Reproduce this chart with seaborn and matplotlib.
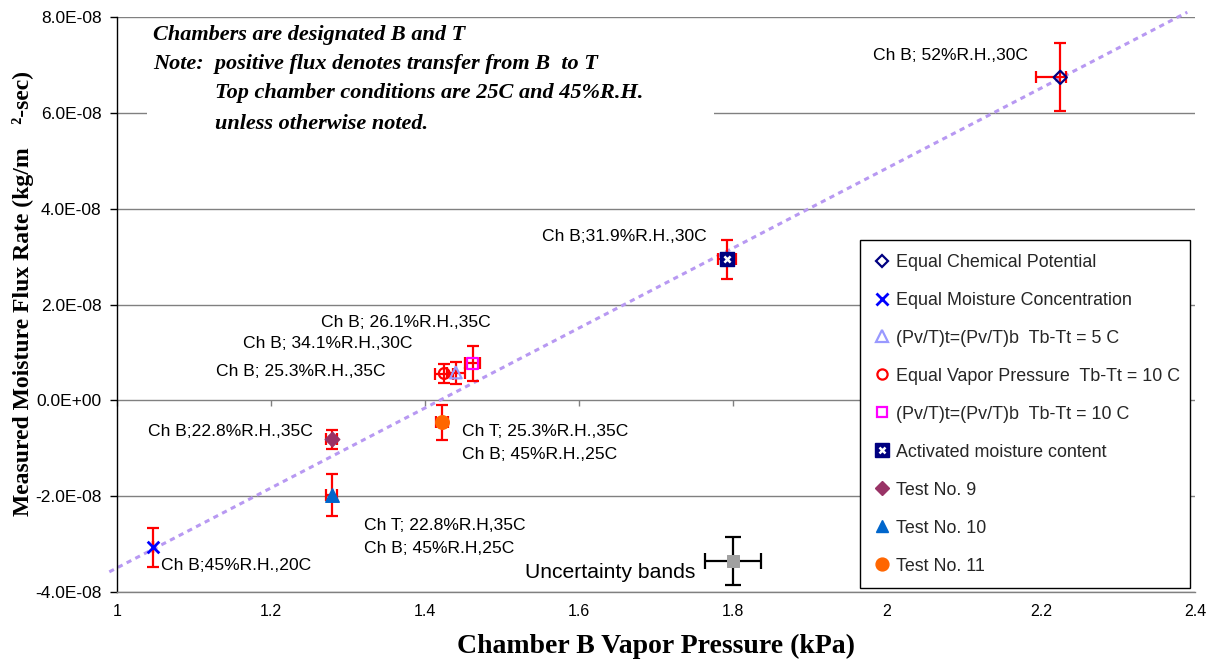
import matplotlib
matplotlib.use("Agg")
import matplotlib.pyplot as plt
import numpy as np
import pandas as pd
import seaborn as sns
from matplotlib.lines import Line2D
from matplotlib.legend_handler import HandlerTuple
from matplotlib.patches import Rectangle
from matplotlib.ticker import FixedLocator

sns.set_theme(style="white")
plt.rcParams["font.family"] = ["Liberation Sans", "DejaVu Sans"]

# ---- measured series -------------------------------------------------------
series_names = [
    "Equal Chemical Potential",
    "Equal Moisture Concentration",
    "(Pv/T)t=(Pv/T)b  Tb-Tt = 5 C",
    "Equal Vapor Pressure  Tb-Tt = 10 C",
    "(Pv/T)t=(Pv/T)b  Tb-Tt = 10 C",
    "Activated moisture content",
    "Test No. 9",
    "Test No. 10",
    "Test No. 11",
]
vapor_pressure = [2.225, 1.047, 1.440, 1.425, 1.462, 1.792, 1.279, 1.279, 1.422]
flux_rate = [6.74e-8, -3.07e-8, 0.58e-8, 0.56e-8, 0.77e-8, 2.94e-8, -0.81e-8, -1.98e-8, -0.46e-8]
flux_err = [0.71e-8, 0.40e-8, 0.23e-8, 0.20e-8, 0.36e-8, 0.40e-8, 0.20e-8, 0.44e-8, 0.37e-8]
vp_err_low = [0.032, 0.0, 0.012, 0.012, 0.010, 0.012, 0.007, 0.007, 0.008]
vp_err_high = [0.008, 0.0, 0.012, 0.012, 0.010, 0.012, 0.007, 0.007, 0.008]

# reference uncertainty marker
band_vp = [1.80]
band_flux = [-3.36e-8]
band_flux_err = [0.50e-8]
band_vp_err = [0.036]

# fitted trend
trend_vp = [0.99, 2.39]
trend_flux = [-3.58e-8, 8.10e-8]

# axis ticks
x_ticks = [1.0, 1.2, 1.4, 1.6, 1.8, 2.0, 2.2, 2.4]
x_tick_labels = ["1", "1.2", "1.4", "1.6", "1.8", "2", "2.2", "2.4"]
y_ticks = [-4e-8, -2e-8, 0.0, 2e-8, 4e-8, 6e-8, 8e-8]
y_tick_labels = ["-4.0E-08", "-2.0E-08", "0.0E+00", "2.0E-08", "4.0E-08", "6.0E-08", "8.0E-08"]

# point annotations
point_labels = [
    "Ch B; 52%R.H.,30C",
    "Ch B;31.9%R.H.,30C",
    "Ch B; 26.1%R.H.,35C",
    "Ch B; 34.1%R.H.,30C",
    "Ch B; 25.3%R.H.,35C",
    "Ch B;22.8%R.H.,35C",
    "Ch T; 25.3%R.H.,35C",
    "Ch B; 45%R.H.,25C",
    "Ch B;45%R.H.,20C",
    "Ch T; 22.8%R.H,35C",
    "Ch B; 45%R.H,25C",
]
note_lines = [
    "Chambers are designated B and T",
    "Note:  positive flux denotes transfer from B  to T",
    "Top chamber conditions are 25C and 45%R.H.",
    "unless otherwise noted.",
]

# ---- styling ---------------------------------------------------------------
label_xy = [
    (1.982, 7.20e-8), (1.552, 3.42e-8), (1.265, 1.63e-8), (1.164, 1.19e-8),
    (1.129, 0.61e-8), (1.040, -0.65e-8), (1.448, -0.65e-8), (1.448, -1.13e-8),
    (1.057, -3.44e-8), (1.321, -2.61e-8), (1.321, -3.09e-8),
]
note_xy = [(0.0334, 0.968), (0.0334, 0.919), (0.0909, 0.868), (0.0909, 0.814)]

styles = {
    "Equal Chemical Potential": dict(marker="D", s=45, facecolor="none", edgecolor="#000080", linewidth=1.6),
    "Equal Moisture Concentration": dict(marker="x", s=70, color="#0000FF", linewidth=2.0),
    "(Pv/T)t=(Pv/T)b  Tb-Tt = 5 C": dict(marker="^", s=70, facecolor="none", edgecolor="#9999FF", linewidth=1.6),
    "Equal Vapor Pressure  Tb-Tt = 10 C": dict(marker="o", s=60, facecolor="none", edgecolor="#FF0000", linewidth=1.6),
    "(Pv/T)t=(Pv/T)b  Tb-Tt = 10 C": dict(marker="s", s=60, facecolor="none", edgecolor="#FF00FF", linewidth=1.6),
    "Activated moisture content": dict(marker="s", s=100, facecolor="#000080", edgecolor="#000080", linewidth=1.0),
    "Test No. 9": dict(marker="D", s=55, facecolor="#993366", edgecolor="#993366", linewidth=1.0),
    "Test No. 10": dict(marker="^", s=95, facecolor="#0066CC", edgecolor="#0066CC", linewidth=1.0),
    "Test No. 11": dict(marker="o", s=95, facecolor="#FF6600", edgecolor="#FF6600", linewidth=1.0),
}

df = pd.DataFrame({
    "series": series_names,
    "vp": vapor_pressure,
    "flux": flux_rate,
})

fig = plt.figure(figsize=(12.13, 6.60), dpi=100)
ax = fig.add_axes([117 / 1213, 68 / 660, 1078 / 1213, 575 / 660])
ax.set_xlim(1.0, 2.4)
ax.set_ylim(-4e-8, 8e-8)

# gridlines and frame
ax.set_axisbelow(True)
ax.yaxis.grid(True, color="#808080", linewidth=1.0)
ax.xaxis.grid(False)
for side in ("top", "right"):
    ax.spines[side].set_visible(False)
ax.spines["left"].set_color("black")
ax.spines["left"].set_linewidth(1.0)
ax.spines["bottom"].set_color("#808080")
ax.spines["bottom"].set_linewidth(1.0)

ax.yaxis.set_major_locator(FixedLocator(y_ticks))
ax.set_yticklabels(y_tick_labels)
ax.xaxis.set_major_locator(FixedLocator(x_ticks))
ax.set_xticklabels(x_tick_labels)
ax.tick_params(axis="y", which="major", left=True, direction="out", length=5,
               width=1, color="black", pad=6, labelsize=12.5, labelcolor="black")
ax.tick_params(axis="x", which="major", bottom=False, length=0, pad=9,
               labelsize=11.5, labelcolor="black")

# category axis crossing at zero flux
cross = ax.secondary_xaxis(1 / 3)
cross.xaxis.set_major_locator(FixedLocator(x_ticks[:-1]))
cross.set_xticklabels([""] * (len(x_ticks) - 1))
cross.tick_params(axis="x", direction="out", length=4, width=1, color="#808080")
cross.spines["bottom"].set_visible(False)

# note box
ax.add_patch(Rectangle((0.028, 0.795), 0.526, 0.2, transform=ax.transAxes,
                       facecolor="white", edgecolor="none", zorder=1))
for (nx, ny), line in zip(note_xy, note_lines):
    ax.text(nx, ny, line, transform=ax.transAxes, ha="left", va="center",
            fontsize=16, fontfamily="Liberation Serif", fontweight="bold",
            fontstyle="italic", color="black", zorder=2)

# trend line
sns.lineplot(x=trend_vp, y=trend_flux, ax=ax, color="#B899F2", linewidth=2.2,
             dashes=False, zorder=2, clip_on=False, legend=False)
ax.lines[-1].set_dashes([1.7, 1.5])

# error bars
ax.errorbar(vapor_pressure, flux_rate, yerr=flux_err,
            xerr=[vp_err_low, vp_err_high], fmt="none", ecolor="#FF0000",
            elinewidth=1.6, capsize=4.5, capthick=1.6, zorder=3)
ax.errorbar(band_vp, band_flux, yerr=band_flux_err, xerr=band_vp_err, fmt="none",
            ecolor="black", elinewidth=1.6, capsize=5.5, capthick=1.6, zorder=3)

# markers
for name in series_names:
    sub = df[df["series"] == name]
    sns.scatterplot(data=sub, x="vp", y="flux", ax=ax, legend=False, zorder=4,
                    **styles[name])
act = df[df["series"] == "Activated moisture content"]
sns.scatterplot(data=act, x="vp", y="flux", ax=ax, legend=False, zorder=5,
                marker="x", s=20, color="white", linewidth=1.8)
sns.scatterplot(x=band_vp, y=band_flux, ax=ax, legend=False, zorder=4,
                marker="s", s=80, color="#A0A0A0", edgecolor="#A0A0A0")

# annotations
for (lx, ly), text in zip(label_xy, point_labels):
    ax.text(lx, ly, text, ha="left", va="center", fontsize=12.6, color="black", zorder=5)
ax.text(1.530, -3.59e-8, "Uncertainty bands", ha="left", va="center",
        fontsize=15.2, color="black", zorder=5)

# axis titles
ax.set_xlabel("Chamber B Vapor Pressure (kPa)", fontsize=20,
              fontfamily="Liberation Serif", fontweight="bold", color="black")
ax.xaxis.set_label_coords(0.500, -0.073)
ax.set_ylabel("Measured Moisture Flux Rate (kg/m    \u00b2-sec)", fontsize=17,
              fontfamily="Liberation Serif", fontweight="bold", color="black")
ax.yaxis.set_label_coords(-0.077, 0.52)

# legend
def handle(name):
    st = styles[name]
    face = st.get("facecolor", st.get("color"))
    edge = st.get("edgecolor", st.get("color"))
    size = np.sqrt(st["s"]) * 0.95
    return Line2D([], [], linestyle="none", marker=st["marker"], markersize=size,
                  markerfacecolor=face, markeredgecolor=edge,
                  markeredgewidth=st["linewidth"])

handles = []
for name in series_names:
    h = handle(name)
    if name == "Activated moisture content":
        h = (h, Line2D([], [], linestyle="none", marker="x", markersize=4.5,
                       markeredgecolor="white", markeredgewidth=1.8))
    handles.append(h)

leg = ax.legend(handles, series_names, loc="lower left",
                bbox_to_anchor=(0.689, 0.007, 0.306, 0.602), mode="expand",
                fontsize=12.9, frameon=True, fancybox=False, framealpha=1,
                edgecolor="black", facecolor="white", handlelength=1.0,
                handletextpad=0.3, labelspacing=1.17, borderpad=0.75,
                borderaxespad=0,
                handler_map={tuple: HandlerTuple(ndivide=1, pad=0)})
leg.get_frame().set_linewidth(1.0)
leg.set_zorder(6)

fig.savefig("out.png", dpi=100, facecolor="white")
